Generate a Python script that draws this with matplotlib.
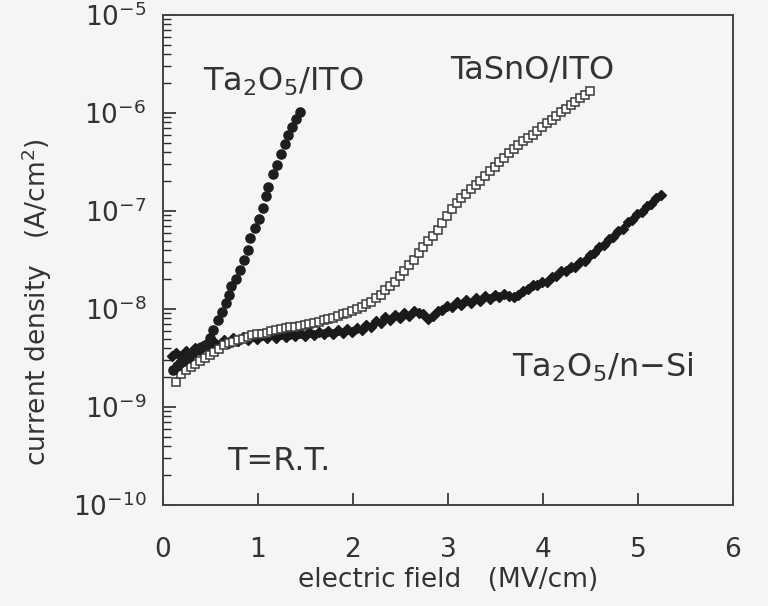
import matplotlib
matplotlib.use("Agg")
import matplotlib.pyplot as plt
import numpy as np
from matplotlib.ticker import LogLocator, FixedLocator, NullFormatter

# ---------------- data (log10 of A/cm^2) ----------------
ito_x = [0.11, 0.15, 0.18, 0.22, 0.27, 0.31, 0.36, 0.40, 0.44, 0.49, 0.53, 0.58,
         0.62, 0.66, 0.69, 0.72, 0.77, 0.81, 0.85, 0.89, 0.92, 0.97, 1.01, 1.05,
         1.08, 1.11, 1.16, 1.20, 1.24, 1.28, 1.32, 1.36, 1.40, 1.44]
ito_logj = [-8.62, -8.58, -8.55, -8.52, -8.49, -8.45, -8.42, -8.39, -8.37, -8.30,
            -8.21, -8.11, -8.03, -7.94, -7.86, -7.77, -7.69, -7.60, -7.50, -7.40,
            -7.28, -7.17, -7.08, -6.97, -6.85, -6.75, -6.62, -6.53, -6.42, -6.32,
            -6.22, -6.14, -6.06, -5.99]

tasno_x = [0.14, 0.19, 0.24, 0.29, 0.34, 0.39, 0.44, 0.49, 0.54, 0.59, 0.64, 0.69,
           0.74, 0.79, 0.84, 0.89, 0.94, 0.99, 1.04, 1.09, 1.14, 1.19, 1.24, 1.29,
           1.34, 1.39, 1.44, 1.49, 1.54, 1.59, 1.64, 1.69, 1.74, 1.79, 1.84, 1.89,
           1.94, 1.99, 2.04, 2.09, 2.14, 2.19, 2.24, 2.29, 2.34, 2.39, 2.44, 2.49,
           2.54, 2.59, 2.64, 2.69, 2.74, 2.79, 2.84, 2.89, 2.94, 2.99, 3.04, 3.09,
           3.14, 3.19, 3.24, 3.29, 3.34, 3.39, 3.44, 3.49, 3.54, 3.59, 3.64, 3.69,
           3.74, 3.79, 3.84, 3.89, 3.94, 3.99, 4.04, 4.09, 4.14, 4.19, 4.24, 4.29,
           4.34, 4.39, 4.44, 4.49]
tasno_logj = [-8.745, -8.66, -8.62, -8.59, -8.56, -8.53, -8.50, -8.47, -8.44, -8.41,
              -8.37, -8.35, -8.34, -8.32, -8.31, -8.29, -8.27, -8.26, -8.25, -8.24,
              -8.22, -8.21, -8.20, -8.19, -8.18, -8.18, -8.17, -8.16, -8.15, -8.14,
              -8.13, -8.11, -8.10, -8.09, -8.07, -8.05, -8.04, -8.02, -8.00, -7.98,
              -7.95, -7.93, -7.89, -7.86, -7.81, -7.77, -7.72, -7.66, -7.61, -7.55,
              -7.50, -7.43, -7.37, -7.31, -7.25, -7.19, -7.12, -7.05, -6.98, -6.92,
              -6.87, -6.83, -6.78, -6.73, -6.69, -6.64, -6.59, -6.55, -6.50, -6.46,
              -6.41, -6.37, -6.33, -6.29, -6.25, -6.22, -6.18, -6.14, -6.10, -6.07,
              -6.03, -5.99, -5.96, -5.92, -5.89, -5.85, -5.82, -5.78]

nsi_x = [0.09, 0.14, 0.19, 0.24, 0.29, 0.34, 0.39, 0.44, 0.49, 0.54, 0.59, 0.64,
         0.69, 0.74, 0.79, 0.84, 0.89, 0.94, 0.99, 1.04, 1.09, 1.14, 1.19, 1.24,
         1.29, 1.34, 1.39, 1.44, 1.49, 1.54, 1.59, 1.64, 1.69, 1.74, 1.79, 1.84,
         1.89, 1.94, 1.99, 2.04, 2.09, 2.14, 2.19, 2.24, 2.29, 2.34, 2.39, 2.44,
         2.49, 2.54, 2.59, 2.64, 2.69, 2.74, 2.79, 2.84, 2.89, 2.94, 2.99, 3.04,
         3.09, 3.14, 3.19, 3.24, 3.29, 3.34, 3.39, 3.44, 3.49, 3.54, 3.59, 3.64,
         3.69, 3.74, 3.79, 3.84, 3.89, 3.94, 3.99, 4.04, 4.09, 4.14, 4.19, 4.24,
         4.29, 4.34, 4.39, 4.44, 4.49, 4.54, 4.59, 4.64, 4.69, 4.74, 4.79, 4.84,
         4.89, 4.94, 4.99, 5.04, 5.09, 5.14, 5.19, 5.24]
nsi_logj = [-8.48, -8.45, -8.48, -8.43, -8.45, -8.40, -8.42, -8.37, -8.39, -8.34,
            -8.37, -8.32, -8.35, -8.30, -8.33, -8.29, -8.32, -8.28, -8.31, -8.27,
            -8.30, -8.26, -8.30, -8.25, -8.29, -8.25, -8.28, -8.24, -8.28, -8.23,
            -8.27, -8.23, -8.26, -8.22, -8.25, -8.21, -8.24, -8.20, -8.23, -8.19,
            -8.21, -8.16, -8.18, -8.12, -8.14, -8.08, -8.11, -8.06, -8.09, -8.04,
            -8.07, -8.02, -8.04, -8.05, -8.10, -8.07, -8.02, -8.01, -7.97, -7.98,
            -7.93, -7.96, -7.91, -7.94, -7.89, -7.92, -7.87, -7.90, -7.86, -7.88,
            -7.85, -7.87, -7.88, -7.86, -7.82, -7.80, -7.76, -7.76, -7.72, -7.72,
            -7.67, -7.66, -7.61, -7.61, -7.57, -7.57, -7.52, -7.51, -7.45, -7.43,
            -7.37, -7.35, -7.29, -7.27, -7.20, -7.18, -7.11, -7.09, -7.03, -7.01,
            -6.95, -6.93, -6.87, -6.84]

labels = {
    "ito": "Ta$_2$O$_5$/ITO",
    "tasno": "TaSnO/ITO",
    "nsi": "Ta$_2$O$_5$/n\u2212Si",
    "temp": "T=R.T.",
}
x_ticks = [0, 1, 2, 3, 4, 5, 6]

# ---------------- figure ----------------
plt.rcParams['font.family'] = ['DejaVu Sans']
plt.rcParams['mathtext.fontset'] = 'dejavusans'

bg = '#f5f5f3'
fig = plt.figure(figsize=(7.68, 6.06), dpi=100, facecolor=bg)
ax = fig.add_axes([163/768, 1 - 505/606, (733-163)/768, (505-15)/606])
ax.set_facecolor(bg)

ink = '#2a2a2a'
ax.plot(nsi_x, [10**v for v in nsi_logj], '-', color='#1a1a1a', lw=3.0,
        marker='D', ms=5.2, mfc='#1a1a1a', mec='#1a1a1a', zorder=2)
ax.plot(tasno_x, [10**v for v in tasno_logj], 's', ms=6.2, mfc='white',
        mec='#3a3a3a', mew=1.1, zorder=3)
ax.plot(ito_x, [10**v for v in ito_logj], 'o', ms=6.6, color='#1e1e1e', zorder=4)

ax.set_yscale('log')
ax.set_xlim(0, 6)
ax.set_ylim(1e-10, 1e-5)

ax.xaxis.set_major_locator(FixedLocator(x_ticks))
ax.yaxis.set_major_locator(LogLocator(base=10, numticks=10))
ax.yaxis.set_minor_locator(LogLocator(base=10, subs=np.arange(2, 10), numticks=20))
ax.yaxis.set_minor_formatter(NullFormatter())

ax.tick_params(axis='both', which='both', direction='in', top=False, right=False,
               colors=ink, labelcolor='#333333')
ax.tick_params(axis='x', which='major', length=9, width=1.2, labelsize=19, pad=23)
ax.tick_params(axis='y', which='major', length=9, width=1.2, labelsize=19, pad=12)
ax.tick_params(axis='y', which='minor', length=6, width=1.0)
for s in ax.spines.values():
    s.set_color('#444444')
    s.set_linewidth(1.4)

ax.set_xlabel('electric field\u2003(MV/cm)', fontsize=19, color='#333333', labelpad=3)
ax.set_ylabel('current density\u2003(A/cm$^2$)', fontsize=19, color='#333333')
ax.yaxis.set_label_coords(-0.192, 0.414)

tk = dict(fontsize=23, color='#333333', va='center', ha='left')
ax.text(0.42, 10**-5.68, labels["ito"], **tk)
ax.text(3.02, 10**-5.56, labels["tasno"], **tk)
ax.text(3.67, 10**-8.60, labels["nsi"], **tk)
ax.text(0.68, 10**-9.56, labels["temp"], **tk)

fig.savefig('out.png', dpi=100, facecolor=fig.get_facecolor())
